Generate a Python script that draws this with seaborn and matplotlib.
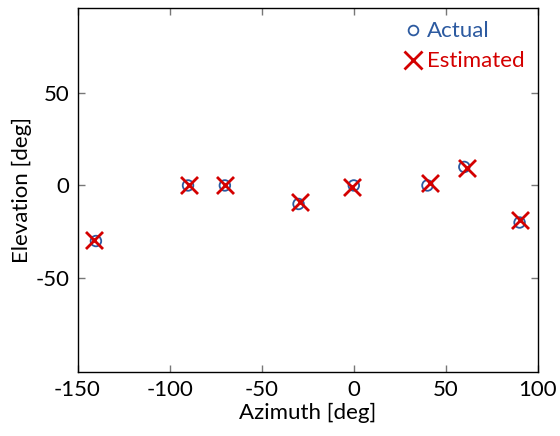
import matplotlib
matplotlib.use("Agg")
import matplotlib.pyplot as plt
import seaborn as sns
import pandas as pd
from matplotlib.lines import Line2D

azimuth_actual = [-140, -90, -70, -30, 0, 40, 60, 90]
elevation_actual = [-30, 0, 0, -10, 0, 0, 10, -20]
azimuth_est = [-141, -89.5, -70, -29, -1, 41.5, 61.3, 90]
elevation_est = [-29.4, 0.4, 0, -8.7, -0.9, 1.3, 9.4, -18.5]
xticks = [-150, -100, -50, 0, 50, 100]
yticks = [-50, 0, 50]

blue = "#2c5aa0"
red = "#d40000"

sns.set_theme(style="white")
plt.rcParams['font.family'] = ['Lato', 'DejaVu Sans']

df_a = pd.DataFrame({"az": azimuth_actual, "el": elevation_actual})
df_e = pd.DataFrame({"az": azimuth_est, "el": elevation_est})

fig = plt.figure(figsize=(5.6, 4.36), dpi=100)
ax = fig.add_axes([77.5 / 560, 1 - 372 / 436, (538 - 77.5) / 560, (372 - 8) / 436])

sns.scatterplot(data=df_a, x="az", y="el", ax=ax, marker="o", s=58,
                facecolors="none", edgecolor=blue, linewidth=1.3, zorder=3)
sns.scatterplot(data=df_e, x="az", y="el", ax=ax, marker="x", s=150,
                color=red, linewidth=2.0, zorder=4)

ax.set_xlim(-150, 100)
ax.set_ylim(-100.7, 95.8)
ax.set_xticks(xticks)
ax.set_yticks(yticks)
ax.set_xticklabels([str(t) for t in xticks])
ax.set_yticklabels([str(t) for t in yticks])
ax.tick_params(direction="in", length=5, width=1, color="#777777",
               labelsize=16, top=True, right=True, bottom=True, left=True,
               pad=6, labelcolor="black")
for s in ax.spines.values():
    s.set_color("black")
    s.set_linewidth(1.0)
ax.set_xlabel("Azimuth [deg]", fontsize=16, color="black", labelpad=2)
ax.set_ylabel("Elevation [deg]", fontsize=16, color="black", labelpad=2)

handles = [
    Line2D([], [], linestyle="none", marker="o", markersize=7, markerfacecolor="none",
           markeredgecolor=blue, markeredgewidth=1.3),
    Line2D([], [], linestyle="none", marker="x", markersize=13, color=red,
           markeredgewidth=2.0),
]
ax.legend(handles, ["Actual", "Estimated"], loc="upper right", frameon=False,
          fontsize=16, labelcolor=[blue, red], handlelength=0.8, handletextpad=0.25,
          borderaxespad=0.2, labelspacing=0.45)

fig.savefig("out.png", dpi=100)
